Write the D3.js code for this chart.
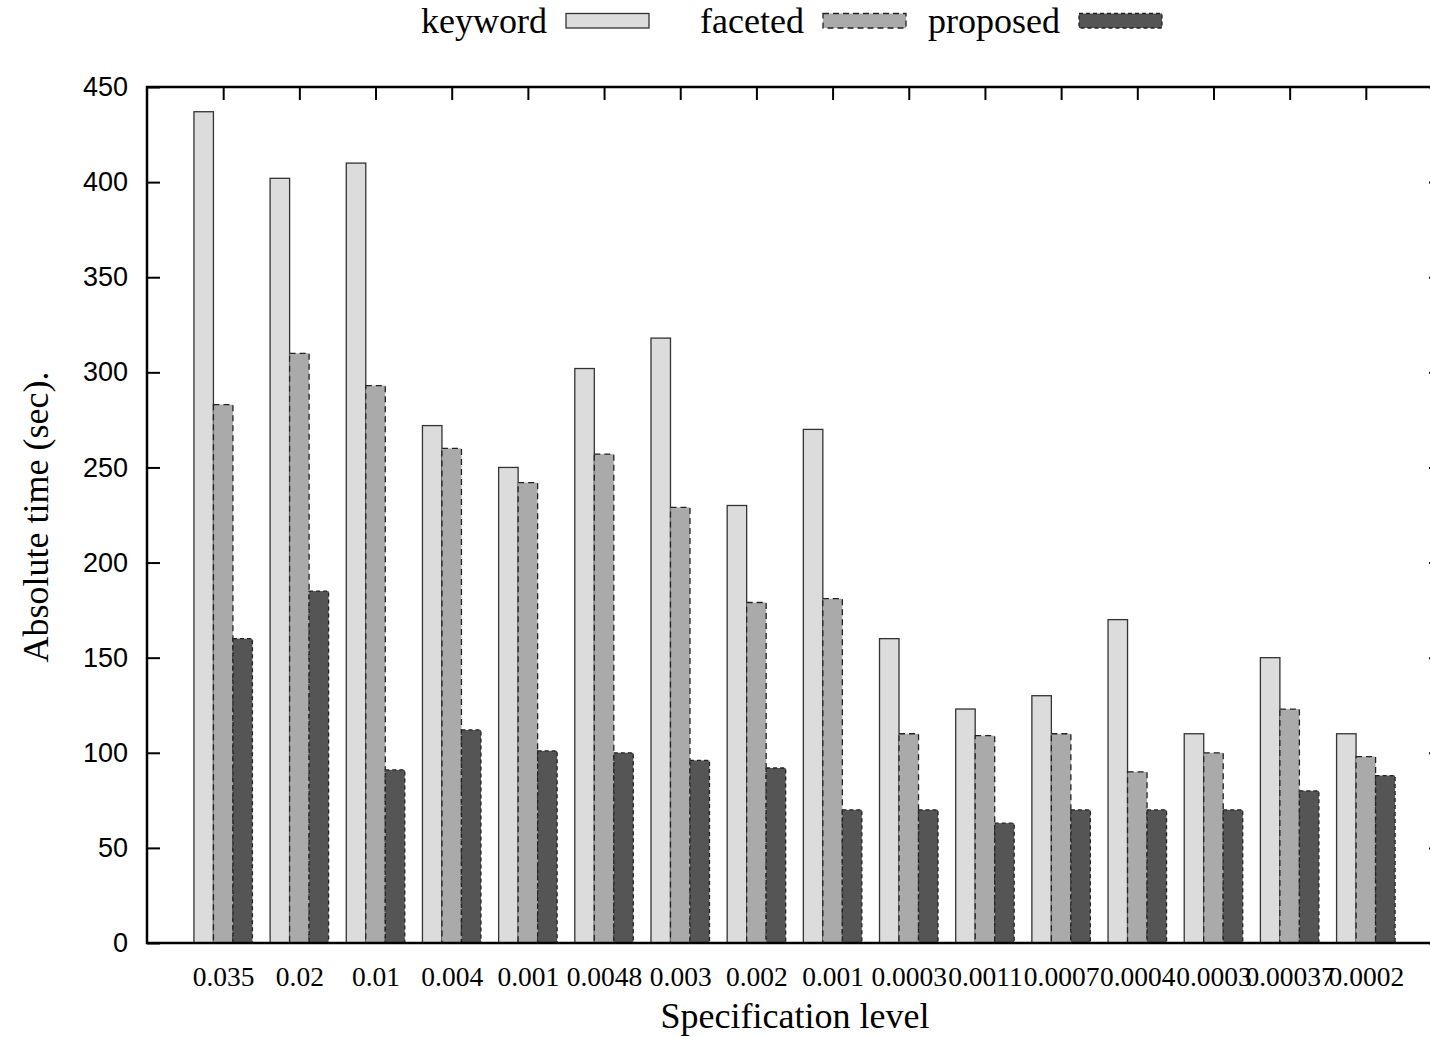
<!DOCTYPE html>
<html>
<head>
<meta charset="utf-8">
<script src="https://cdn.jsdelivr.net/npm/d3@7"></script>
<style>
  body { margin: 0; background: #fff; }
  svg { display: block; }
  .serif { font-family: "Liberation Serif", "Times New Roman", serif; }
  .sans { font-family: "Liberation Sans", Arial, sans-serif; }
</style>
</head>
<body>
<div id="chart"></div>
<script>
// data
const levels = ['0.035', '0.02', '0.01', '0.004', '0.001', '0.0048', '0.003', '0.002',
  '0.001', '0.0003', '0.0011', '0.0007', '0.0004', '0.0003', '0.00037', '0.0002'];
const seriesNames = ['keyword', 'faceted', 'proposed'];
const keyword  = [437, 402, 410, 272, 250, 302, 318, 230, 270, 160, 123, 130, 170, 110, 150, 110];
const faceted  = [283, 310, 293, 260, 242, 257, 229, 179, 181, 110, 109, 110, 90, 100, 123, 98];
const proposed = [160, 185, 91, 112, 101, 100, 96, 92, 70, 70, 63, 70, 70, 70, 80, 88];
const yTicks = [0, 50, 100, 150, 200, 250, 300, 350, 400, 450];

const values = { keyword, faceted, proposed };
const styles = {
  keyword:  { fill: '#dcdcdc', stroke: '#333', dash: null },
  faceted:  { fill: '#aaaaaa', stroke: '#222', dash: '6,4' },
  proposed: { fill: '#555555', stroke: '#222', dash: '4,3' }
};

const W = 1430, H = 1037;
const plotLeft = 147, plotTop = 87, plotBottom = 943, plotRight = 1442;

const svg = d3.select('#chart').append('svg')
  .attr('width', W).attr('height', H);

// scales
const x = d3.scaleLinear().domain([-1, levels.length]).range([plotLeft, plotRight]);
const y = d3.scaleLinear().domain([0, 450]).range([plotBottom, plotTop]);
const sub = d3.scaleBand().domain(seriesNames).range([-0.384, 0.384]);

// bottom axis (drawn first so bars cover the inner ticks)
const xAxis = svg.append('g')
  .attr('transform', `translate(0,${plotBottom})`)
  .call(d3.axisBottom(x).tickValues(d3.range(levels.length))
    .tickFormat(i => levels[i]).tickSizeInner(-13).tickSizeOuter(0).tickPadding(23));
xAxis.select('.domain').remove();
xAxis.selectAll('line').attr('stroke', '#000').attr('stroke-width', 2);
xAxis.selectAll('text').attr('class', 'serif').style('font-size', '27.5px').attr('fill', '#000');

// bars
seriesNames.forEach(s => {
  svg.append('g').selectAll('rect')
    .data(values[s])
    .join('rect')
    .attr('x', (d, i) => x(i + sub(s)))
    .attr('width', (d, i) => x(i + sub(s) + sub.bandwidth()) - x(i + sub(s)))
    .attr('y', d => y(d))
    .attr('height', d => y(0) - y(d))
    .attr('fill', styles[s].fill)
    .attr('stroke', styles[s].stroke)
    .attr('stroke-width', 1.3)
    .attr('stroke-dasharray', styles[s].dash);
});

// left axis
const yAxis = svg.append('g')
  .attr('transform', `translate(${plotLeft},0)`)
  .call(d3.axisLeft(y).tickValues(yTicks).tickSizeInner(-13).tickSizeOuter(0).tickPadding(19));
yAxis.select('.domain').remove();
yAxis.selectAll('line').attr('stroke', '#000').attr('stroke-width', 2);
yAxis.selectAll('text').attr('class', 'sans').style('font-size', '27px').attr('fill', '#000');

// right mirror ticks
const yAxisR = svg.append('g')
  .attr('transform', `translate(${plotRight},0)`)
  .call(d3.axisRight(y).tickValues(yTicks).tickSizeInner(-13).tickSizeOuter(0).tickFormat(''));
yAxisR.select('.domain').remove();
yAxisR.selectAll('line').attr('stroke', '#000').attr('stroke-width', 2);

// top mirror ticks
const xAxisT = svg.append('g')
  .attr('transform', `translate(0,${plotTop})`)
  .call(d3.axisTop(x).tickValues(d3.range(levels.length)).tickSizeInner(-13).tickSizeOuter(0).tickFormat(''));
xAxisT.select('.domain').remove();
xAxisT.selectAll('line').attr('stroke', '#000').attr('stroke-width', 2);

// frame
svg.append('rect')
  .attr('x', plotLeft).attr('y', plotTop)
  .attr('width', plotRight - plotLeft).attr('height', plotBottom - plotTop)
  .attr('fill', 'none').attr('stroke', '#000').attr('stroke-width', 2.5);

// axis titles
svg.append('text').attr('class', 'serif')
  .attr('x', 795).attr('y', 1028)
  .attr('text-anchor', 'middle').style('font-size', '36px')
  .text('Specification level');

svg.append('text').attr('class', 'serif')
  .attr('transform', 'translate(48,517) rotate(-90)')
  .attr('text-anchor', 'middle').style('font-size', '36px')
  .text('Absolute time (sec).');

// legend
const legendX = [566, 823, 1079];
seriesNames.forEach((s, i) => {
  const g = svg.append('g');
  g.append('text').attr('class', 'serif')
    .attr('x', legendX[i] - 19).attr('y', 33)
    .attr('text-anchor', 'end').style('font-size', '36px')
    .text(s);
  g.append('rect')
    .attr('x', legendX[i]).attr('y', 13.5)
    .attr('width', 83).attr('height', 14.5)
    .attr('fill', styles[s].fill)
    .attr('stroke', styles[s].stroke)
    .attr('stroke-width', 1.3)
    .attr('stroke-dasharray', styles[s].dash);
});
</script>
</body>
</html>
